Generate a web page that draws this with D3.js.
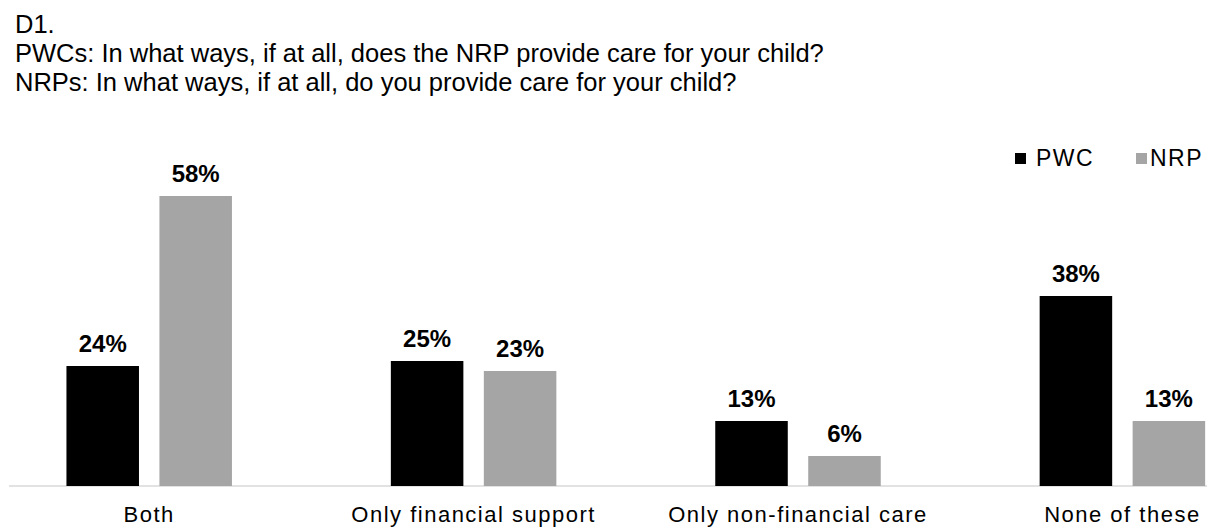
<!DOCTYPE html>
<html>
<head>
<meta charset="utf-8">
<script src="https://cdn.jsdelivr.net/npm/d3@7"></script>
<style>
  html, body { margin: 0; padding: 0; background: #ffffff; }
  svg { display: block; font-family: "Liberation Sans", Arial, sans-serif; }
</style>
</head>
<body>
<svg id="chart" width="1207" height="527"></svg>
<script>
// Survey question D1: ways the non-resident parent provides care
const titleLines = [
  "D1.",
  "PWCs: In what ways, if at all, does the NRP provide care for your child?",
  "NRPs: In what ways, if at all, do you provide care for your child?"
];
const categories = ["Both", "Only financial support", "Only non-financial care", "None of these"];
const seriesNames = ["PWC", "NRP"];
const pwcValues = [24, 25, 13, 38];
const nrpValues = [58, 23, 6, 13];
const seriesColors = ["#000000", "#a5a5a5"];

const svg = d3.select("#chart");
const W = 1207, H = 527;

// Title block
svg.append("g")
  .selectAll("text")
  .data(titleLines)
  .join("text")
  .attr("x", 15)
  .attr("y", (d, i) => 33 + i * 29)
  .attr("font-size", 25.5)
  .attr("fill", "#000")
  .text(d => d);

// Scales
const baseY = 486;
const y = d3.scaleLinear().domain([0, 60]).range([baseY, baseY - 300]);
const x0 = d3.scaleBand().domain(categories).range([-13, 1284.6]).paddingInner(0).paddingOuter(0);
const groupW = 165.5;
const x1 = d3.scaleBand().domain(seriesNames)
  .range([(x0.bandwidth() - groupW) / 2, (x0.bandwidth() + groupW) / 2])
  .paddingInner(0.22).paddingOuter(0);
const color = d3.scaleOrdinal().domain(seriesNames).range(seriesColors);

const rows = categories.map((c, i) => ({
  category: c,
  values: [
    { key: "PWC", value: pwcValues[i] },
    { key: "NRP", value: nrpValues[i] }
  ]
}));

// Category axis along the baseline
const xAxis = svg.append("g")
  .attr("transform", `translate(0,${baseY})`)
  .call(d3.axisBottom(x0).tickSize(0).tickPadding(0));
xAxis.select(".domain").remove();
xAxis.selectAll("text")
  .attr("dy", null)
  .attr("y", 36)
  .attr("font-size", 22)
  .attr("letter-spacing", 1.5)
  .attr("font-family", "Liberation Sans, Arial, sans-serif")
  .attr("fill", "#000");

svg.append("line")
  .attr("x1", 9).attr("x2", W)
  .attr("y1", baseY).attr("y2", baseY)
  .attr("stroke", "#d9d9d9")
  .attr("stroke-width", 1.5);

// Bars and value labels
const groups = svg.append("g")
  .selectAll("g")
  .data(rows)
  .join("g")
  .attr("transform", d => `translate(${x0(d.category)},0)`);

groups.selectAll("rect")
  .data(d => d.values)
  .join("rect")
  .attr("x", d => x1(d.key))
  .attr("width", x1.bandwidth())
  .attr("y", d => y(d.value))
  .attr("height", d => y(0) - y(d.value))
  .attr("fill", d => color(d.key));

groups.selectAll("text.value")
  .data(d => d.values)
  .join("text")
  .attr("class", "value")
  .attr("x", d => x1(d.key) + x1.bandwidth() / 2)
  .attr("y", d => y(d.value) - 14)
  .attr("text-anchor", "middle")
  .attr("font-size", 24)
  .attr("font-weight", "bold")
  .attr("fill", "#000")
  .text(d => d.value + "%");

// Legend
const legendX = [1015, 1136];
const legend = svg.append("g")
  .selectAll("g")
  .data(seriesNames)
  .join("g")
  .attr("transform", (d, i) => `translate(${legendX[i]},153)`);
legend.append("rect")
  .attr("width", 11).attr("height", 11)
  .attr("fill", d => color(d));
legend.append("text")
  .attr("x", d => d === "PWC" ? 21 : 14)
  .attr("y", 13)
  .attr("font-size", 23)
  .attr("letter-spacing", 1.5)
  .attr("fill", "#000")
  .text(d => d);
</script>
</body>
</html>
